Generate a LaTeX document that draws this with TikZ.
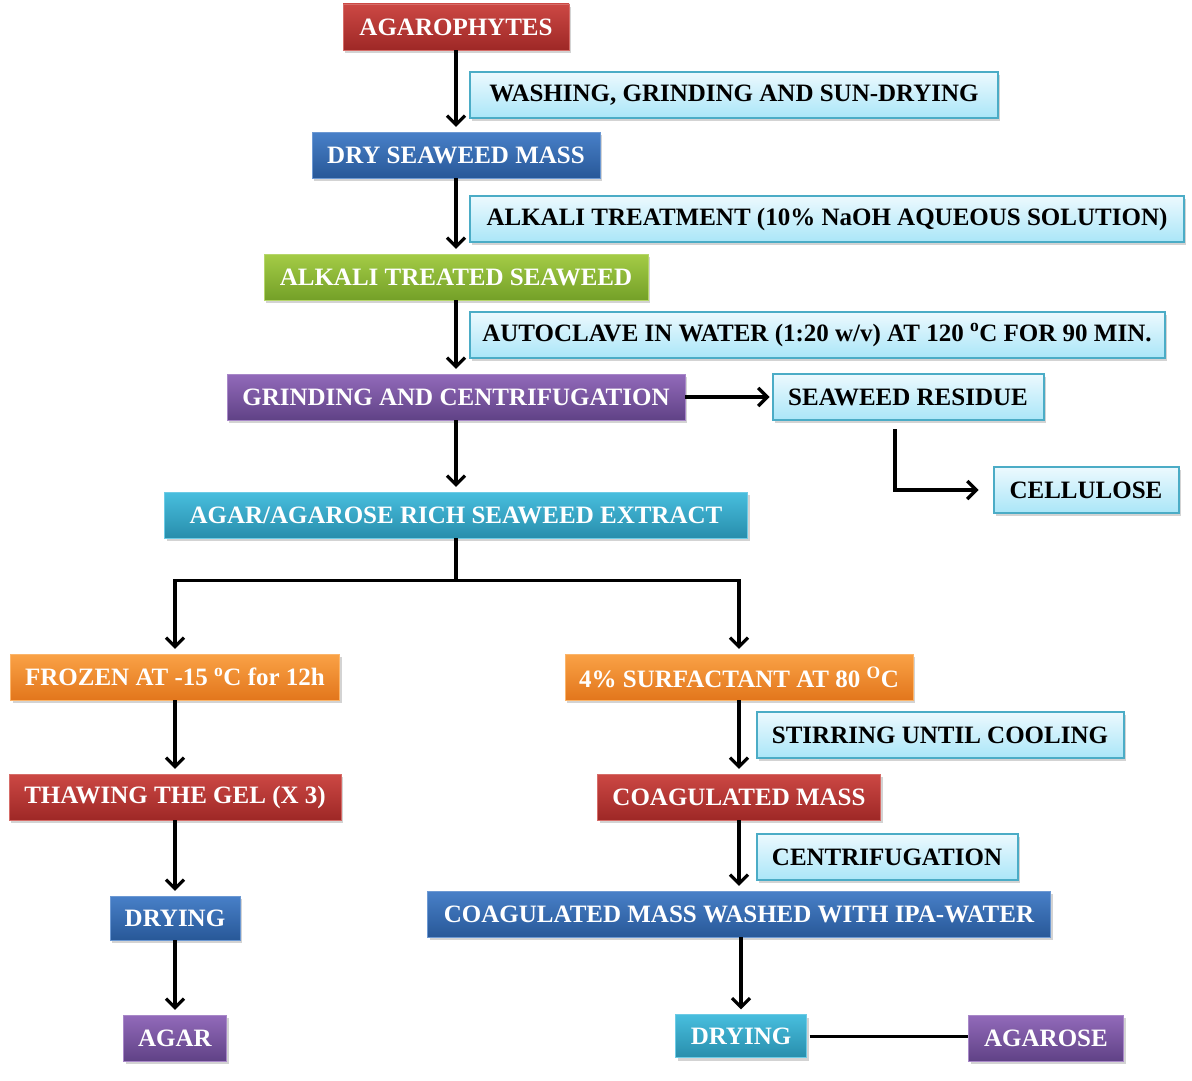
\documentclass[tikz,border=0pt]{standalone}
\usepackage{fontspec}
\setmainfont{Liberation Serif}
\usepackage{xcolor}
\usetikzlibrary{positioning,calc,shadows,arrows.meta}

\definecolor{redtop}{RGB}{204,72,68}
\definecolor{redbot}{RGB}{158,40,38}
\definecolor{bluetop}{RGB}{72,128,200}
\definecolor{bluebot}{RGB}{40,88,152}
\definecolor{greentop}{RGB}{164,204,70}
\definecolor{greenbot}{RGB}{116,160,40}
\definecolor{purptop}{RGB}{146,106,186}
\definecolor{purpbot}{RGB}{96,66,134}
\definecolor{tealtop}{RGB}{72,190,222}
\definecolor{tealbot}{RGB}{40,142,172}
\definecolor{orangetop}{RGB}{250,162,70}
\definecolor{orangebot}{RGB}{226,118,28}
\definecolor{notetop}{RGB}{236,249,254}
\definecolor{notebot}{RGB}{170,230,248}
\definecolor{noteline}{RGB}{75,172,198}

\begin{document}
\begin{tikzpicture}[x=1pt, y=-1pt,
    box/.style={rectangle, minimum height=46pt, inner sep=0pt, text=white,
        font=\fontsize{25}{29}\selectfont\bfseries,
        drop shadow={opacity=0.35, shadow xshift=2pt, shadow yshift=-3pt}},
    redbox/.style={box, top color=redtop, bottom color=redbot, draw=redtop!80!white},
    bluebox/.style={box, top color=bluetop, bottom color=bluebot, draw=bluetop!80!white},
    greenbox/.style={box, top color=greentop, bottom color=greenbot, draw=greentop!80!white},
    purpbox/.style={box, top color=purptop, bottom color=purpbot, draw=purptop!80!white},
    tealbox/.style={box, top color=tealtop, bottom color=tealbot, draw=tealtop!80!white},
    orangebox/.style={box, top color=orangetop, bottom color=orangebot, draw=orangetop!80!white},
    note/.style={box, text=black, top color=notetop, bottom color=notebot, draw=noteline, line width=2pt},
    arrow/.style={-{Straight Barb[length=9pt, width=18pt]}, line width=3.2pt, shorten >=5pt}
]
    \useasboundingbox (0,0) rectangle (1192,1081);

    % Main line
    \node[redbox, minimum width=226pt] (agaro) at (456,27) {AGAROPHYTES};
    \node[note, minimum width=528pt] (wash) at (734,95) {WASHING,  GRINDING AND SUN-DRYING};
    \node[bluebox, minimum width=288pt] (drymass) at (456,155) {DRY SEAWEED MASS};
    \node[note, minimum width=714pt] (alkali) at (827,219) {ALKALI TREATMENT (10\% NaOH AQUEOUS SOLUTION)};
    \node[greenbox, minimum width=384pt] (treated) at (456,277) {ALKALI TREATED SEAWEED};
    \node[note, minimum width=695pt] (autoclave) at (817,335) {AUTOCLAVE IN WATER (1:20 w/v) AT 120 \textsuperscript{o}C FOR 90 MIN.};
    \node[purpbox, minimum width=458pt] (grinding) at (456,397) {GRINDING AND CENTRIFUGATION};
    \node[note, minimum width=271pt] (residue) at (908,397) {SEAWEED RESIDUE};
    \node[note, minimum width=185pt] (cellulose) at (1086,490) {CELLULOSE};
    \node[tealbox, minimum width=583pt] (extract) at (456,515) {AGAR/AGAROSE RICH SEAWEED EXTRACT};

    \draw[arrow] (agaro.south) -- (drymass.north);
    \draw[arrow] (drymass.south) -- (treated.north);
    \draw[arrow] (treated.south) -- (grinding.north);
    \draw[arrow] (grinding.south) -- (extract.north);
    \draw[arrow, shorten >=2pt] (grinding.east) -- (residue.west);
    \draw[arrow, shorten >=14pt] ([xshift=-13pt, yshift=-8pt]residue.south) |- (cellulose.west);

    % Agar branch
    \node[orangebox, minimum width=329pt] (frozen) at (175,677) {FROZEN AT -15 \textsuperscript{o}C for 12h};
    \node[redbox, minimum width=332pt] (thawing) at (175,797) {THAWING  THE GEL (X 3)};
    \node[bluebox, minimum width=130pt, minimum height=44pt] (dryleft) at (175,918) {DRYING};
    \node[purpbox, minimum width=103pt] (agar) at (175,1038) {AGAR};

    % Agarose branch
    \node[orangebox, minimum width=348pt] (surfactant) at (739,677) {4\% SURFACTANT AT 80 \textsuperscript{O}C};
    \node[note, minimum width=367pt] (stirring) at (940,735) {STIRRING UNTIL COOLING};
    \node[redbox, minimum width=283pt] (coag) at (739,797) {COAGULATED MASS};
    \node[note, minimum width=261pt] (centri) at (887,857) {CENTRIFUGATION};
    \node[bluebox, minimum width=623pt] (washed) at (739,914) {COAGULATED MASS WASHED  WITH  IPA-WATER};
    \node[tealbox, minimum width=131pt, minimum height=43pt] (dryright) at (741,1036) {DRYING};
    \node[purpbox, minimum width=155pt] (agarose) at (1046,1038) {AGAROSE};

    \draw[arrow] (extract.south) -- ++(0,42) -| (frozen.north);
    \draw[arrow] (extract.south) -- ++(0,42) -| (surfactant.north);
    \draw[arrow] (frozen.south) -- (thawing.north);
    \draw[arrow] (thawing.south) -- (dryleft.north);
    \draw[arrow] (dryleft.south) -- (agar.north);
    \draw[arrow] (surfactant.south) -- (coag.north);
    \draw[arrow] (coag.south) -- (washed.north);
    \draw[arrow] (washed.south -| dryright.north) -- (dryright.north);
    \draw[line width=3pt] ([xshift=3pt]dryright.east) -- (agarose.west |- dryright.east);
\end{tikzpicture}
\end{document}
